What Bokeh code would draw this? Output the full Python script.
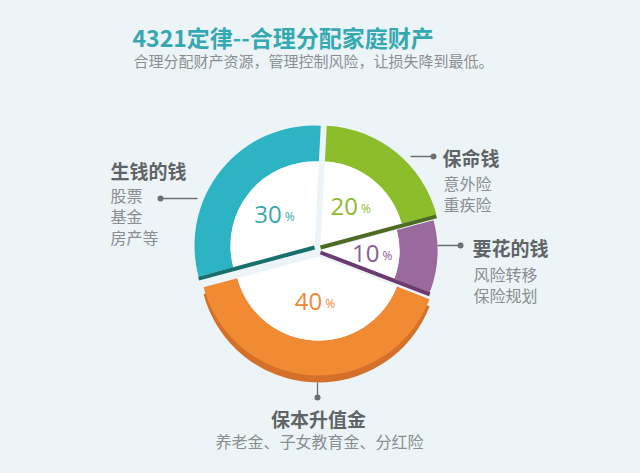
import math
from bokeh.plotting import figure
from bokeh.models import Range1d
from bokeh.core.properties import value
from bokeh.embed import file_html
from bokeh.resources import INLINE

# ---- data ----
names = ["保命钱", "要花的钱", "保本升值金", "生钱的钱"]
values = [20, 10, 40, 30]
details = [["意外险", "重疾险"], ["风险转移", "保险规划"], ["养老金、子女教育金、分红险"], ["股票", "基金", "房产等"]]
title = "4321定律--合理分配家庭财产"
subtitle = "合理分配财产资源，管理控制风险，让损失降到最低。"

# ---- styles ----
W, H = 640, 473
BG = "#edf4f8"
colors = ["#8cbd2a", "#9a6a9e", "#f08a33", "#2cb4c5"]
edge_colors = ["#4d6b22", "#6a3a70", "#d4702a", "#17706c"]
text_colors = ["#8dba30", "#8b5d90", "#ee8a37", "#3aa8b3"]
offsets = [(2, -2), (2, 3), (0, 9), (-4, -2)]  # image px (dx, dy down)
outer_r = [120, 117, 119, 120]
inner_r = [84, 79, 84, 84]
label_r = [50, 53, 45, 50]
base_cx, base_cy = 318, 247
start_deg = 87

label_pos = [(442, 157, "left"), (472, 247, "left"), (318, 418, "center"), (110, 170, "left")]
detail_pos = [[(443, 182), (443, 203)], [(473, 273), (473, 294)], [(319, 440)], [(110, 194), (110, 215), (110, 236)]]
connectors = [((410, 156), (433, 156)), ((437, 245), (460, 245)), ((317, 382), (317, 397)), ((197, 198), (160, 198))]

def Y(y):
    return H - y

p = figure(width=W, height=H, output_backend="svg", toolbar_location=None,
           x_axis_type=None, y_axis_type=None, min_border=0,
           x_range=Range1d(0, W), y_range=Range1d(0, H),
           background_fill_color=BG, border_fill_color=BG)
p.outline_line_color = None
p.xgrid.visible = False
p.ygrid.visible = False

cjk = value("Noto Sans CJK SC")

# slices
a = start_deg
angles = []
for v in values:
    a0 = a
    a1 = a - v * 3.6
    angles.append((a0, a1))
    a = a1

for i, v in enumerate(values):
    a0, a1 = angles[i]
    cx = base_cx + offsets[i][0]
    cy = Y(base_cy + offsets[i][1])
    s, e = math.radians(a1), math.radians(a0)
    if i == 2:
        # 3D rim under the orange slice
        p.annular_wedge(x=cx, y=cy - 7, inner_radius=inner_r[i], outer_radius=outer_r[i],
                        start_angle=s, end_angle=e, fill_color=edge_colors[i], line_color=None)
    p.annular_wedge(x=cx, y=cy, inner_radius=inner_r[i], outer_radius=outer_r[i],
                    start_angle=s, end_angle=e, fill_color=colors[i], line_color=None)
    p.wedge(x=cx, y=cy, radius=inner_r[i], start_angle=s, end_angle=e,
            fill_color="white", line_color=None)
    if i != 2:
        # dark edge on the lower boundary
        lo = a0 if math.sin(math.radians(a0)) < math.sin(math.radians(a1)) else a1
        r = math.radians(lo)
        p.segment(x0=cx, y0=cy - 2, x1=cx + outer_r[i] * math.cos(r), y1=cy - 2 + outer_r[i] * math.sin(r),
                  line_color=edge_colors[i], line_width=4, line_cap="butt")
    # percent label
    mid = math.radians((a0 + a1) / 2)
    tx = cx + label_r[i] * math.cos(mid)
    ty = cy + label_r[i] * math.sin(mid)
    p.text(x=[tx + 6], y=[ty], text=[str(v)], text_align="right", text_baseline="middle",
           text_font=value("Open Sans"), text_font_size="24px", text_color=text_colors[i])
    p.text(x=[tx + 9], y=[ty - 2], text=["%"], text_align="left", text_baseline="middle",
           text_font=value("Open Sans"), text_font_size="12px", text_color=text_colors[i])

# labels
for i, n in enumerate(names):
    lx, ly, al = label_pos[i]
    p.text(x=[lx], y=[Y(ly)], text=[n], text_align=al, text_baseline="middle",
           text_font=cjk, text_font_style="bold", text_font_size="19px", text_color="#5f6466")
    for (dx, dy), d in zip(detail_pos[i], details[i]):
        p.text(x=[dx], y=[Y(dy)], text=[d], text_align=al, text_baseline="middle",
               text_font=cjk, text_font_size="16px", text_color="#8a8e90")
    (x0, y0), (x1, y1) = connectors[i]
    p.segment(x0=x0, y0=Y(y0), x1=x1, y1=Y(y1), line_color="#6b7073", line_width=1.3)
    p.scatter(x=[x1], y=[Y(y1)], size=6, fill_color="#6b7073", line_color=None)

# title
p.text(x=[132], y=[Y(36)], text=[title], text_align="left", text_baseline="middle",
       text_font=cjk, text_font_style="bold", text_font_size="23px", text_color="#35a9b2")
p.text(x=[133], y=[Y(60)], text=[subtitle], text_align="left", text_baseline="middle",
       text_font=cjk, text_font_size="15px", text_color="#8a8f92")

html = file_html(p, INLINE)
html = html.replace("<head>", "<head><style>html,body{background:%s;}</style>" % BG, 1)
open("out.html", "w").write(html)
